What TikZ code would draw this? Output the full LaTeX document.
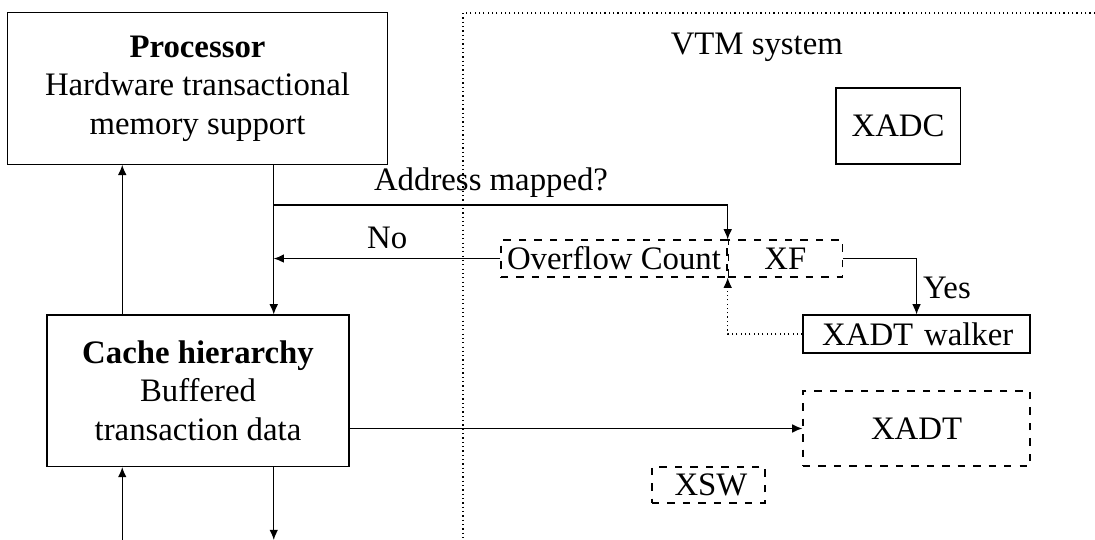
\documentclass[tikz,border=0pt]{standalone}
\usepackage{fontspec}
\setmainfont{Liberation Serif}
\usetikzlibrary{arrows.meta, positioning, calc}

\tikzset{
  unit/.style={draw, align=center, inner sep=2pt},
  dunit/.style={draw, align=center, inner xsep=1pt, inner ysep=0pt, dash pattern=on 2.4pt off 2.6pt},
  runit/.style={draw, align=right, inner ysep=0pt},
  link/.style={-{Latex[length=3.3pt,width=2.8pt]}}
}

\begin{document}
\begin{tikzpicture}[font=\fontsize{10.6}{12.5}\selectfont]
  \useasboundingbox (0,0) rectangle (12.443,-6.136);
  \coordinate (vtmcorner) at (5.26,-0.148);
  \coordinate (bottom) at (0,-6.136);
  \draw[densely dotted] (12.443,-0.148) -- (vtmcorner) -- (vtmcorner |- bottom);
  \node (vtm) at (8.6,-0.534) {VTM system};

  \node[unit, minimum width=4.31cm, minimum height=1.72cm] (Processor) at (2.244,-1.006)
    {\textbf{Processor}\\Hardware transactional\\memory support};
  \node[unit, minimum width=3.43cm, minimum height=1.72cm] (Cache) at (2.25,-4.44)
    {\textbf{Cache hierarchy}\\Buffered\\transaction data};

  \node[unit, minimum width=1.41cm, minimum height=0.864cm] (XADC) at (10.205,-1.432) {XADC};
  \node[dunit, minimum width=2.57cm, minimum height=0.42cm] (Overflow) at (6.977,-2.938) {Overflow Count};
  \node[dunit, minimum width=1.295cm, minimum height=0.42cm, right=0pt of Overflow] (XF) {XF};
  \node[runit, inner xsep=0.19cm, text width=2.2cm, minimum height=0.43cm] (Walker) at (10.415,-3.795) {XADT walker};
  \node[dunit, minimum width=2.58cm, minimum height=0.852cm] (XADT) at (10.415,-4.869) {XADT};
  \node[runit, dash pattern=on 2.4pt off 2.6pt, inner xsep=0.2cm, text width=0.884cm, minimum height=0.41cm] (XSW) at (8.051,-5.511) {XSW};

  \node (addr) at (5.58,-2.08) {Address mapped?};
  \node (no) at (4.40,-2.70) {No};
  \node (yes) at (10.76,-3.27) {Yes};

  \coordinate (upX) at ($(Cache.north west)!0.25!(Cache.north east)$);
  \coordinate (downX) at ($(Cache.north west)!0.75!(Cache.north east)$);
  \coordinate (branch) at (3.114,-2.33);
  \draw[link] (upX) -- (upX |- Processor.south);
  \draw[link] (downX |- Processor.south) -- (downX);
  \draw[link] (branch) -| (Overflow.north east);
  \draw[link] (Overflow.west) -- (Overflow.west -| downX);
  \draw[link] (XF.east) -| (Walker.north);
  \draw[link, densely dotted] (Walker.west) -| (Overflow.south east);
  \draw[link] (XADT.west -| Cache.east) -- (XADT.west);
  \draw[link] (upX |- bottom) -- (upX |- Cache.south);
  \draw[link] (downX |- Cache.south) -- (downX |- bottom);
\end{tikzpicture}
\end{document}
